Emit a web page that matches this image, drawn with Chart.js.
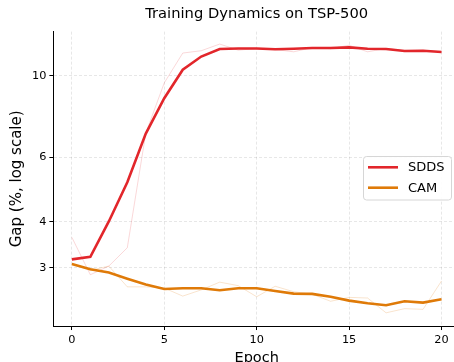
<!DOCTYPE html>
<html><head><meta charset="utf-8">
<script src="https://cdn.jsdelivr.net/npm/chart.js@4.4.0/dist/chart.umd.min.js"></script>
<style>
html,body{margin:0;padding:0;overflow:hidden;background:#fff;width:454px;height:362px;}
#wrap{position:absolute;left:0;top:0;width:460px;height:367px;}
</style></head><body>
<div id="wrap"><canvas id="c" width="460" height="367"></canvas></div>
<script>
// ---- data ----
const epochs = [0,1,2,3,4,5,6,7,8,9,10,11,12,13,14,15,16,17,18,19,20];
const sddsSmoothed = [3.16,3.21,4.01,5.13,6.96,8.69,10.39,11.29,11.84,11.88,11.88,11.82,11.86,11.91,11.91,11.96,11.86,11.84,11.69,11.71,11.62];
const sddsRaw      = [3.63,2.87,3.03,3.40,6.98,9.57,11.54,11.71,12.21,11.75,11.88,11.80,11.63,11.94,11.86,12.12,11.63,11.88,11.72,11.74,11.62];
const camSmoothed  = [3.07,2.97,2.91,2.80,2.70,2.625,2.637,2.637,2.604,2.637,2.637,2.593,2.549,2.545,2.50,2.44,2.40,2.37,2.43,2.41,2.46];
const camRaw       = [3.07,2.95,3.03,2.66,2.66,2.64,2.51,2.61,2.74,2.68,2.50,2.67,2.58,2.54,2.43,2.49,2.48,2.26,2.32,2.31,2.76];
const xTicks = [0,5,10,15,20];
const yTicks = [3,4,6,10];
const seriesNames = ['SDDS','CAM'];

const FONT = "'DejaVu Sans', sans-serif";
const sddsColor = '#e2262b';
const camColor = '#df7a08';
const toPts = ys => epochs.map((e,i)=>({x:e, y:ys[i]}));

const legendPlugin = {
  id:'boxLegend',
  afterDatasetsDraw(chart){
    const ctx = chart.ctx;
    const items = chart.data.datasets.filter(d=>d.showInLegend);
    const x = 363.5, y = 156.5, w = 88, h = 43.5;
    ctx.save();
    ctx.fillStyle = 'rgba(255,255,255,0.9)';
    ctx.strokeStyle = '#d6d6d6';
    ctx.lineWidth = 1;
    ctx.beginPath();
    ctx.roundRect(x, y, w, h, 3);
    ctx.fill(); ctx.stroke();
    items.forEach((it,i)=>{
      const yy = 167.3 + i*20.4;
      ctx.strokeStyle = it.borderColor;
      ctx.lineWidth = 2.6;
      ctx.beginPath(); ctx.moveTo(368, yy); ctx.lineTo(398, yy); ctx.stroke();
      ctx.fillStyle = '#000';
      ctx.font = "13px 'DejaVu Sans'";
      ctx.textBaseline = 'middle';
      ctx.textAlign = 'left';
      ctx.fillText(it.label, 408, yy + 0.5);
    });
    ctx.restore();
  }
};

const gridCommon = {
  color:'rgba(0,0,0,0.12)', lineWidth:0.8, tickColor:'#000', tickLength:4, tickWidth:1, tickBorderDash:[]
};

new Chart(document.getElementById('c'), {
  type:'line',
  data:{datasets:[
    {label:seriesNames[0], data:toPts(sddsSmoothed), borderColor:sddsColor, borderWidth:2.6, pointRadius:0, order:0, showInLegend:true},
    {label:seriesNames[1], data:toPts(camSmoothed), borderColor:camColor, borderWidth:2.6, pointRadius:0, order:0, showInLegend:true},
    {label:seriesNames[0]+' raw', data:toPts(sddsRaw), borderColor:'rgba(226,38,43,0.18)', borderWidth:1, pointRadius:0, order:1},
    {label:seriesNames[1]+' raw', data:toPts(camRaw), borderColor:'rgba(223,122,8,0.2)', borderWidth:1, pointRadius:0, order:1}
  ]},
  options:{
    responsive:false, animation:false, devicePixelRatio:1,
    layout:{padding:{left:5, right:0, top:0, bottom:0}},
    plugins:{
      legend:{display:false}, tooltip:{enabled:false},
      title:{display:true, text:'Training Dynamics on TSP-500', fullSize:false,
        font:{family:FONT, size:14.7, weight:'normal'}, color:'#000', padding:{top:5, bottom:9}}
    },
    scales:{
      x:{type:'linear', min:-1, max:21, bounds:'data',
        afterBuildTicks:s=>{s.ticks = xTicks.map(v=>({value:v}));},
        ticks:{font:{family:FONT,size:11.3}, color:'#000', padding:3, maxRotation:0, autoSkip:false, callback:v=>String(v)},
        grid:gridCommon, border:{display:true, color:'#000', width:1, dash:[3,2]},
        title:{display:true, text:'Epoch', font:{family:FONT,size:14.5}, color:'#000', padding:{top:0,bottom:0}}
      },
      y:{type:'logarithmic', min:2.08, max:13.2, bounds:'data',
        afterBuildTicks:s=>{s.ticks = yTicks.map(v=>({value:v}));},
        ticks:{font:{family:FONT,size:11.3}, color:'#000', padding:3, autoSkip:false, callback:v=>String(v)},
        grid:gridCommon, border:{display:true, color:'#000', width:1, dash:[3,2]},
        title:{display:true, text:'Gap (%, log scale)', font:{family:FONT,size:15}, color:'#000', padding:{top:3,bottom:3}}
      }
    }
  },
  plugins:[legendPlugin]
});
</script>
</body></html>
